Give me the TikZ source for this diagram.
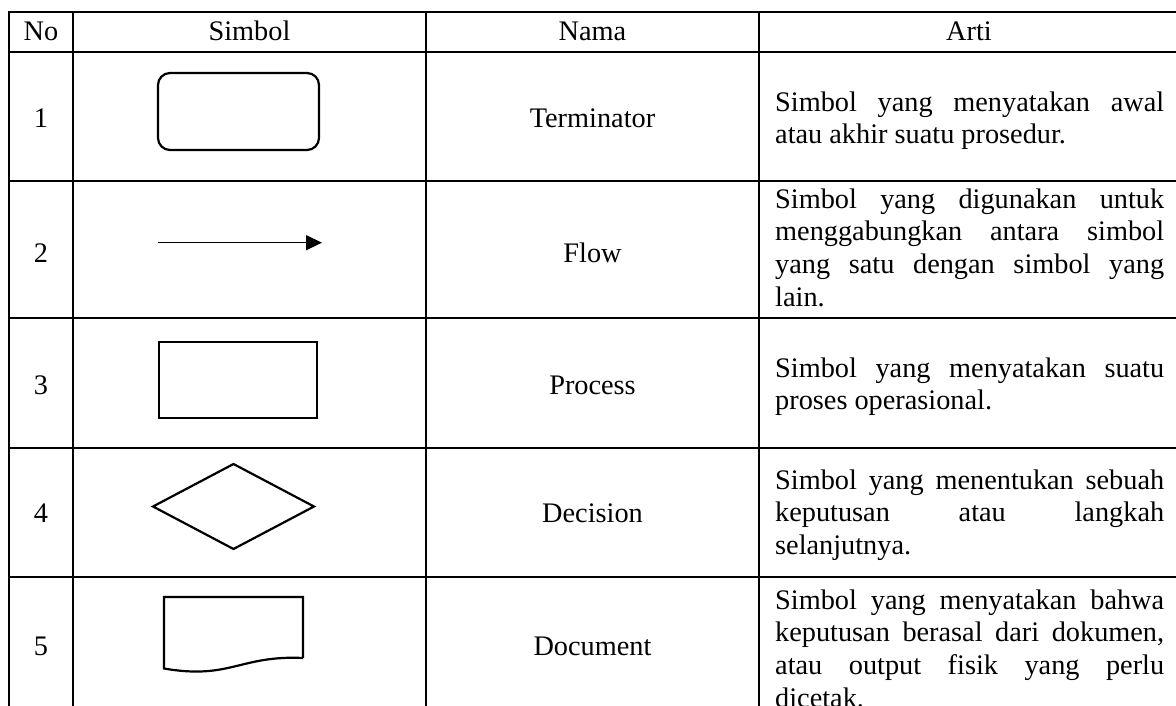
\documentclass[tikz,border=0pt]{standalone}
\usepackage{fontspec}
\setmainfont{Liberation Serif}
\usetikzlibrary{arrows.meta}
\newcommand\tabfont{\fontsize{28.3}{32.6}\selectfont}
\hbadness=10000
\hfuzz=50pt
\begin{document}
\begin{tikzpicture}[x=1pt,y=-1pt,
  grid/.style={line width=2.5pt},
  lbl/.style={font=\tabfont, anchor=base, inner sep=0pt},
  arti/.style={font=\tabfont, text width=389pt, align=justify, anchor=north west, inner sep=0pt},
  sym/.style={draw, line width=2.2pt, inner sep=0pt, outer sep=0pt},
  flowline/.style={line width=1.3pt, -{Triangle[length=16pt,width=15pt]}}]
\useasboundingbox (0,0) rectangle (1176,706);
% table grid
\draw[grid] (1176,12) -- (9,12) -- (9,706);
\foreach \yy in {52,181,318,448,577} \draw[grid] (9,\yy) -- (1176,\yy);
\foreach \xx in {73,426,759} \draw[grid] (\xx,12) -- (\xx,706);
% header
\node[lbl] (hno) at (41,41) {No};
\node[lbl] (hsim) at (249.5,41) {Simbol};
\node[lbl] (hnama) at (592.5,41) {Nama};
\node[lbl] (harti) at (969,41) {Arti};
% numbers
\node[lbl] (n1) at (41,128) {1};
\node[lbl] (n2) at (41,262) {2};
\node[lbl] (n3) at (41,394) {3};
\node[lbl] (n4) at (41,522) {4};
\node[lbl] (n5) at (41,655) {5};
% names
\node[lbl] (m1) at (592.5,128) {Terminator};
\node[lbl] (m2) at (592.5,262) {Flow};
\node[lbl] (m3) at (592.5,394) {Process};
\node[lbl] (m4) at (592.5,522) {Decision};
\node[lbl] (m5) at (592.5,655) {Document};
% meanings
\node[arti] (a1) at (775,88.2) {\strut Simbol yang menyatakan awal\linebreak atau akhir suatu prosedur.};
\node[arti] (a2) at (775,185.2) {\strut Simbol yang digunakan untuk\linebreak menggabungkan antara simbol\linebreak yang satu dengan simbol yang\linebreak lain.};
\node[arti] (a3) at (775,354.2) {\strut Simbol yang menyatakan suatu\linebreak proses operasional.};
\node[arti] (a4) at (775,466.2) {\strut Simbol yang menentukan sebuah\linebreak keputusan atau langkah\linebreak selanjutnya.};
\node[arti] (a5) at (775,586.2) {\strut Simbol yang menyatakan bahwa\linebreak keputusan berasal dari dokumen,\linebreak atau output fisik yang perlu\linebreak dicetak.};
% symbols
\node[sym, rounded corners=12pt, minimum width=161pt, minimum height=77pt] (term) at (238.5,111.5) {};
\coordinate (fs) at (158,242.7);
\coordinate (fe) at (322,242.7);
\draw[flowline] (fs) -- (fe);
\node[sym, minimum width=158pt, minimum height=76pt] (proc) at (238,380) {};
\draw[line width=2.2pt, line join=miter] (153,506.5) -- (233.5,464) -- (314,506.5) -- (233.5,549) -- cycle;
\draw[line width=2.2pt] (303,658) -- (303,597) -- (164,597) -- (164,668.5)
  .. controls (230,680) and (240,655) .. (303,658);
\end{tikzpicture}
\end{document}
